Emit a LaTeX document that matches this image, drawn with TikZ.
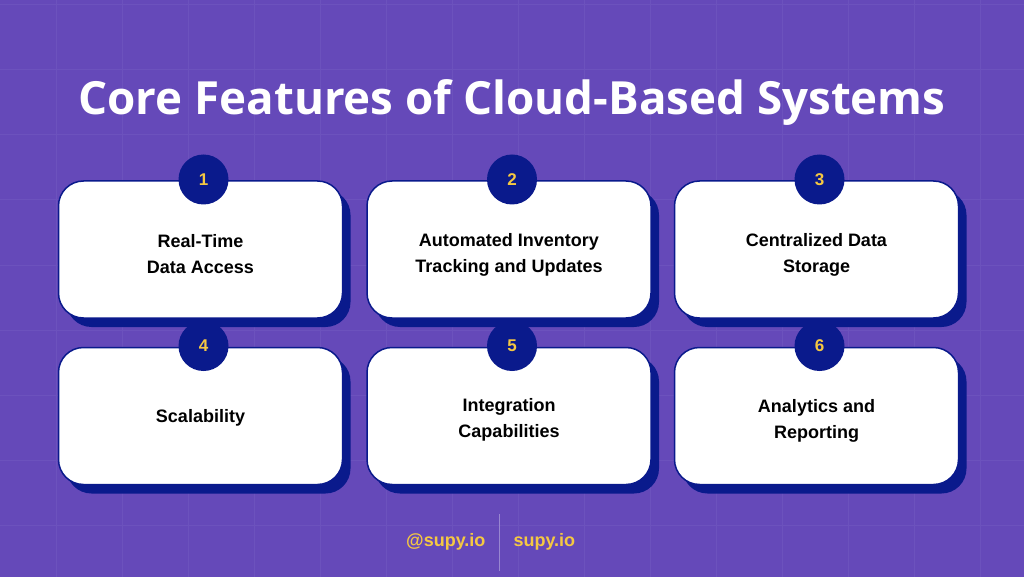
\documentclass[tikz,border=0pt]{standalone}
\usepackage{fontspec}
\setmainfont{Liberation Sans}
\newfontfamily\titlefont{Open Sans}
\definecolor{bgpurple}{RGB}{101,73,185}
\definecolor{gridline}{RGB}{108,82,189}
\definecolor{navy}{RGB}{10,26,140}
\definecolor{gold}{RGB}{245,200,66}
\begin{document}
\begin{tikzpicture}[x=1pt,y=-1pt,
  cardshadow/.style={fill=navy, rounded corners=25pt, minimum width=284pt, minimum height=137pt, inner sep=0pt},
  card/.style={fill=white, draw=navy, line width=1.5pt, rounded corners=25pt, minimum width=284pt, minimum height=137pt, inner sep=0pt},
  cardtext/.style={font=\fontsize{18}{26}\selectfont\bfseries, align=center, text=black},
  badge/.style={circle, fill=navy, minimum size=50pt, inner sep=0pt, text=gold, font=\fontsize{17}{20}\selectfont\bfseries},
  foot/.style={text=gold, font=\fontsize{18}{20}\selectfont\bfseries}
]
\useasboundingbox (0,0) rectangle (1024,577);
\fill[bgpurple] (0,0) rectangle (1024,577);
\foreach \gx in {56,122,188,254,320,386,452,518,584,650,716,782,848,914,980}
  \draw[gridline, line width=1pt] (\gx,0) -- (\gx,577);
\foreach \gy in {5,70,135,200,265,330,395,460,525}
  \draw[gridline, line width=1pt] (0,\gy) -- (1024,\gy);

\node[text=white, font=\titlefont\fontsize{45.7}{54}\selectfont\bfseries] (title) at (512,103) {Core Features of Cloud-Based Systems};

\foreach \n/\cx/\cy in {1/200.5/249.5, 2/509/249.5, 3/816.5/249.5, 4/200.5/416, 5/509/416, 6/816.5/416}{
  \node[cardshadow] (s\n) at (\cx+8,\cy+9) {};
  \node[card] (c\n) at (\cx,\cy) {};
  \node[badge] (n\n) at (\cx+3,\cy-70) {\n};
}
\node[cardtext] (t1) at ([yshift=-5pt]c1.center) {Real-Time\\Data Access};
\node[cardtext] (t2) at ([yshift=-5pt]c2.center) {Automated Inventory\\Tracking and Updates};
\node[cardtext] (t3) at ([yshift=-5pt]c3.center) {Centralized Data\\Storage};
\node[cardtext] (t4) at ([yshift=-2pt]c4.center) {Scalability};
\node[cardtext] (t5) at ([yshift=-4pt]c5.center) {Integration\\Capabilities};
\node[cardtext] (t6) at ([yshift=-5pt]c6.center) {Analytics and\\Reporting};

\node[foot, anchor=east] (f1) at (489,542) {@supy.io};
\node[foot, anchor=west] (f2) at (510,542) {supy.io};
\coordinate (d1) at (499,514);
\coordinate (d2) at (499,571);
\draw[gridline!70!white, line width=1pt] (d1) -- (d2);
\end{tikzpicture}
\end{document}
